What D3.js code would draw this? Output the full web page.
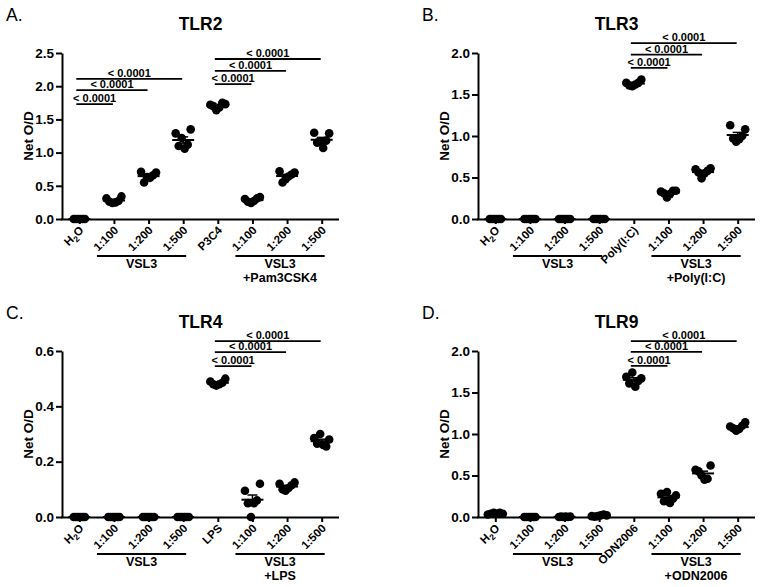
<!DOCTYPE html>
<html><head><meta charset="utf-8">
<script src="https://cdn.jsdelivr.net/npm/d3@7"></script>
<style>
body{margin:0;background:#fff}
svg{display:block}
text{font-family:"Liberation Sans",Arial,Helvetica,sans-serif;fill:#000}
</style>
</head><body>
<svg id="chart" width="764" height="587"></svg>
<script>
// ---------- DATA ----------
const panelLetters = ["A.", "B.", "C.", "D."];
const panelTitles = ["TLR2", "TLR3", "TLR4", "TLR9"];
const pValueText = "< 0.0001";
const yAxisTitle = "Net O/D";

const tlr2Labels = ["H2O", "1:100", "1:200", "1:500", "P3C4", "1:100", "1:200", "1:500"];
const tlr2Values = [
  [0, 0, 0, 0, 0, 0],
  [0.31, 0.26, 0.24, 0.25, 0.27, 0.34],
  [0.71, 0.55, 0.63, 0.62, 0.66, 0.70],
  [1.29, 1.10, 1.22, 1.06, 1.12, 1.35],
  [1.72, 1.70, 1.64, 1.68, 1.75, 1.73],
  [0.30, 0.26, 0.24, 0.27, 0.31, 0.33],
  [0.72, 0.55, 0.60, 0.64, 0.67, 0.70],
  [1.30, 1.15, 1.17, 1.07, 1.18, 1.29]
];
const tlr2Ticks = [0, 0.5, 1.0, 1.5, 2.0, 2.5];
const tlr2Comparisons = [[0, 1, 1.73], [0, 2, 1.94], [0, 3, 2.11], [4, 5, 2.03], [4, 6, 2.23], [4, 7, 2.41]];
const tlr2Groups = [[1, 3, ["VSL3"]], [5, 7, ["VSL3", "+Pam3CSK4"]]];

const tlr3Labels = ["H2O", "1:100", "1:200", "1:500", "Poly(I:C)", "1:100", "1:200", "1:500"];
const tlr3Values = [
  [0, 0, 0, 0, 0, 0],
  [0, 0, 0, 0, 0, 0],
  [0, 0, 0, 0, 0, 0],
  [0, 0, 0, 0, 0, 0],
  [1.64, 1.61, 1.60, 1.62, 1.64, 1.68],
  [0.33, 0.31, 0.26, 0.30, 0.34, 0.34],
  [0.60, 0.56, 0.49, 0.55, 0.58, 0.61],
  [1.13, 0.97, 0.93, 0.96, 1.00, 1.08]
];
const tlr3Ticks = [0, 0.5, 1.0, 1.5, 2.0];
const tlr3Comparisons = [[4, 5, 1.82], [4, 6, 1.98], [4, 7, 2.12]];
const tlr3Groups = [[1, 3, ["VSL3"]], [5, 7, ["VSL3", "+Poly(I:C)"]]];

const tlr4Labels = ["H2O", "1:100", "1:200", "1:500", "LPS", "1:100", "1:200", "1:500"];
const tlr4Values = [
  [0, 0, 0, 0, 0, 0],
  [0, 0, 0, 0, 0, 0],
  [0, 0, 0, 0, 0, 0],
  [0, 0, 0, 0, 0, 0],
  [0.49, 0.48, 0.475, 0.48, 0.485, 0.50],
  [0.095, 0.05, 0.0, 0.05, 0.06, 0.12],
  [0.12, 0.10, 0.095, 0.105, 0.115, 0.125],
  [0.285, 0.265, 0.30, 0.26, 0.255, 0.28]
];
const tlr4Ticks = [0, 0.2, 0.4, 0.6];
const tlr4Comparisons = [[4, 5, 0.545], [4, 6, 0.596], [4, 7, 0.636]];
const tlr4Groups = [[1, 3, ["VSL3"]], [5, 7, ["VSL3", "+LPS"]]];

const tlr9Labels = ["H2O", "1:100", "1:200", "1:500", "ODN2006", "1:100", "1:200", "1:500"];
const tlr9Values = [
  [0.03, 0.04, 0.05, 0.04, 0.05, 0.04],
  [0, 0, 0, 0, 0, 0],
  [0, 0.005, 0, 0.005, 0, 0.005],
  [0.01, 0.005, 0.01, 0.02, 0.03, 0.02],
  [1.69, 1.61, 1.74, 1.57, 1.64, 1.67],
  [0.28, 0.19, 0.30, 0.17, 0.22, 0.26],
  [0.57, 0.55, 0.50, 0.45, 0.46, 0.62],
  [1.09, 1.07, 1.04, 1.06, 1.10, 1.14]
];
const tlr9Ticks = [0, 0.5, 1.0, 1.5, 2.0];
const tlr9Comparisons = [[4, 5, 1.82], [4, 6, 1.99], [4, 7, 2.12]];
const tlr9Groups = [[1, 3, ["VSL3"]], [5, 7, ["VSL3", "+ODN2006"]]];

// ---------- LAYOUT ----------
const svg = d3.select("#chart");
const panels = [
  {labels: tlr2Labels, values: tlr2Values, ticks: tlr2Ticks, comps: tlr2Comparisons, groups: tlr2Groups, ox: 0, oy: 0},
  {labels: tlr3Labels, values: tlr3Values, ticks: tlr3Ticks, comps: tlr3Comparisons, groups: tlr3Groups, ox: 416, oy: 0},
  {labels: tlr4Labels, values: tlr4Values, ticks: tlr4Ticks, comps: tlr4Comparisons, groups: tlr4Groups, ox: 0, oy: 298},
  {labels: tlr9Labels, values: tlr9Values, ticks: tlr9Ticks, comps: tlr9Comparisons, groups: tlr9Groups, ox: 416, oy: 298}
];

const plotLeft = 62, plotRight = 339, plotTop = 53, plotBottom = 219;
const R = 4.3, STEP = 3.0;

panels.forEach((p, pi) => {
  const g = svg.append("g").attr("transform", `translate(${p.ox},${p.oy})`);
  const x = d3.scalePoint().domain(d3.range(p.labels.length)).range([plotLeft, plotRight]).padding(0.5);
  const y = d3.scaleLinear().domain([0, d3.max(p.ticks)]).range([plotBottom, plotTop]);

  g.append("text").attr("x", 6).attr("y", 21).attr("font-size", 17.5).text(panelLetters[pi]);
  g.append("text").attr("x", (plotLeft + plotRight) / 2).attr("y", 29.5).attr("text-anchor", "middle")
    .attr("font-size", 17.5).attr("font-weight", "bold").text(panelTitles[pi]);

  const ya = g.append("g").attr("transform", `translate(${plotLeft},0)`)
    .call(d3.axisLeft(y).tickValues(p.ticks).tickFormat(d3.format(".1f")).tickSize(6).tickSizeOuter(0).tickPadding(2));
  ya.select(".domain").attr("stroke-width", 2);
  ya.selectAll(".tick line").attr("stroke-width", 2);
  ya.selectAll(".tick text").attr("font-size", 13.5).attr("font-weight", "bold")
    .attr("font-family", '"Liberation Sans",Arial,sans-serif').attr("fill", "#000");

  g.append("text").attr("transform", `translate(${plotLeft - 29},${(plotTop + plotBottom) / 2}) rotate(-90)`)
    .attr("text-anchor", "middle").attr("font-size", 13.5).attr("font-weight", "bold").text(yAxisTitle);

  const xa = g.append("g").attr("transform", `translate(0,${plotBottom})`)
    .call(d3.axisBottom(x).tickSize(5).tickSizeOuter(0).tickFormat(""));
  xa.select(".domain").attr("stroke-width", 2).attr("d", `M${plotLeft - 1},0.5H${plotRight}`);
  xa.selectAll(".tick line").attr("stroke-width", 2);

  p.labels.forEach((lab, i) => {
    const t = g.append("text")
      .attr("transform", `translate(${x(i) + 5},${plotBottom + 12}) rotate(-45)`)
      .attr("text-anchor", "end").attr("font-size", 11.5).attr("font-weight", "bold");
    if (lab === "H2O") {
      t.append("tspan").text("H");
      t.append("tspan").attr("font-size", 8.5).attr("dy", 3).text("2");
      t.append("tspan").attr("dy", -3).text("O");
    } else t.text(lab);
  });

  p.groups.forEach(([a, b, names]) => {
    const x0 = x(a) - 17, x1 = x(b) + 3;
    g.append("line").attr("x1", x0).attr("x2", x1).attr("y1", plotBottom + 37).attr("y2", plotBottom + 37)
      .attr("stroke", "#000").attr("stroke-width", 1.8);
    names.forEach((n, k) => {
      g.append("text").attr("x", (x0 + x1) / 2).attr("y", plotBottom + 49 + k * 14)
        .attr("text-anchor", "middle").attr("font-size", 12.5).attr("font-weight", "bold").text(n);
    });
  });

  p.values.forEach((vals, i) => {
    const n = vals.length;
    const span = y(d3.min(vals)) - y(d3.max(vals));
    const step = STEP * (span < 1 ? 0.75 : 1);
    g.selectAll(null).data(vals).enter().append("circle")
      .attr("cx", (d, k) => x(i) + (k - (n - 1) / 2) * step)
      .attr("cy", d => y(d)).attr("r", R).attr("fill", "#000");
    const m = d3.mean(vals);
    const sem = d3.deviation(vals) / Math.sqrt(n);
    const lg = g.append("g").attr("stroke", "#000");
    lg.append("line").attr("x1", x(i) - 11).attr("x2", x(i) + 11).attr("y1", y(m)).attr("y2", y(m)).attr("stroke-width", 2);
    if (sem > 0) {
      lg.append("line").attr("x1", x(i)).attr("x2", x(i)).attr("y1", y(m - sem)).attr("y2", y(m + sem)).attr("stroke-width", 1.5);
      [m - sem, m + sem].forEach(v => lg.append("line").attr("x1", x(i) - 5).attr("x2", x(i) + 5)
        .attr("y1", y(v)).attr("y2", y(v)).attr("stroke-width", 1.5));
    }
  });

  p.comps.forEach(([a, b, h]) => {
    const x0 = x(a) - 3, x1 = x(b) - 1, yy = y(h);
    g.append("line").attr("x1", x0).attr("x2", x1).attr("y1", yy).attr("y2", yy)
      .attr("stroke", "#000").attr("stroke-width", 1.8);
    g.append("text").attr("x", (x0 + x1) / 2).attr("y", yy - 2).attr("text-anchor", "middle")
      .attr("font-size", 11).attr("font-weight", "bold").text(pValueText);
  });
});
</script>
</body></html>
